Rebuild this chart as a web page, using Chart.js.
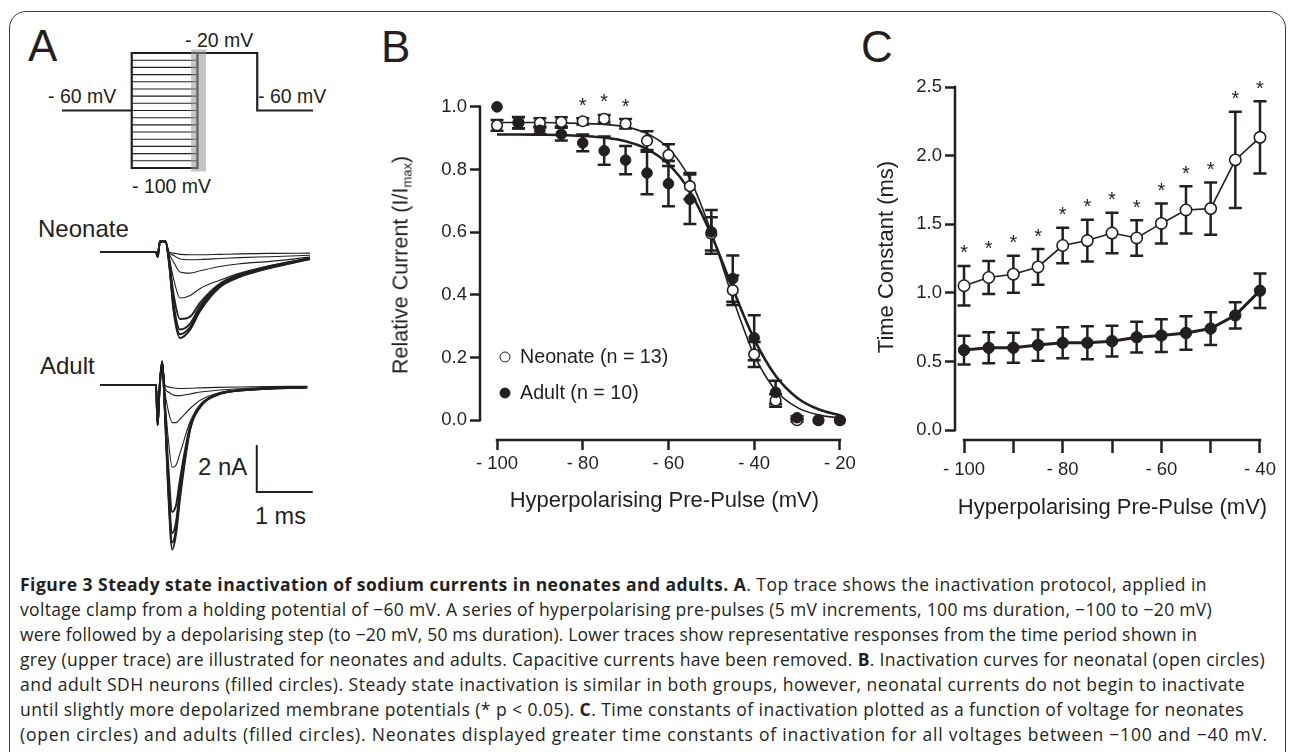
<!DOCTYPE html>
<html>
<head>
<meta charset="utf-8">
<script src="https://cdn.jsdelivr.net/npm/chart.js@4.4.1/dist/chart.umd.min.js"></script>
<style>
  body { margin: 0; width: 1295px; height: 752px; overflow: hidden; background: #fff; position: relative;
         font-family: "Liberation Sans", Arial, sans-serif; color: #231f20; }
  .frame { position: absolute; left: 9px; top: 11px; width: 1277px; height: 820px; box-sizing: border-box;
           border: 1.5px solid #3c3c3c; border-radius: 17px; }
  canvas { position: absolute; }
  .lbl { position: absolute; white-space: nowrap; line-height: 1; transform: translateY(-50%); }
  .letter { position: absolute; font-size: 44px; line-height: 1; }
  .dot { display: inline-block; width: 11px; height: 11px; border-radius: 50%; box-sizing: border-box;
         border: 1.7px solid #231f20; position: absolute; transform: translate(-50%, -50%); }
  .caption { position: absolute; left: 20px; top: 572px; font-family: "Open Sans", sans-serif; font-size: 17.5px;
             letter-spacing: 0.4px; line-height: 25px; color: #231f20; white-space: nowrap; }
  .caption div { display: table; }
  .rot { position: absolute; white-space: nowrap; line-height: 1; font-size: 21.5px;
         transform: translate(-50%, -50%) rotate(-90deg); }
  sub { font-size: 13px; vertical-align: -4px; }
</style>
</head>
<body>
<div class="frame"></div>

<div class="letter" style="left:28px;top:24px">A</div>
<div class="letter" style="left:381px;top:25px">B</div>
<div class="letter" style="left:861px;top:25px">C</div>

<!-- panel A labels -->
<div class="lbl" style="left:185px;top:41px;font-size:19.5px">- 20 mV</div>
<div class="lbl" style="left:48px;top:97px;font-size:19.5px">- 60 mV</div>
<div class="lbl" style="left:258px;top:97px;font-size:19.5px">- 60 mV</div>
<div class="lbl" style="left:132px;top:187px;font-size:19.5px">- 100 mV</div>
<div class="lbl" style="left:38px;top:229px;font-size:24px">Neonate</div>
<div class="lbl" style="left:40px;top:366px;font-size:24px">Adult</div>
<div class="lbl" style="left:198px;top:467px;font-size:24px">2 nA</div>
<div class="lbl" style="left:255px;top:517px;font-size:23.5px">1 ms</div>

<canvas id="protocolChart" width="261" height="133" style="left:57px;top:44px"></canvas>
<canvas id="neonateTraces" width="225" height="120" style="left:95px;top:230px"></canvas>
<canvas id="adultTraces" width="225" height="215" style="left:95px;top:350px"></canvas>

<!-- panel B -->
<canvas id="inactChart" width="480" height="470" style="left:380px;top:70px"></canvas>
<div class="rot" style="left:402px;top:265px">Relative Current (I/I<sub>max</sub>)</div>
<span class="dot" style="left:505px;top:357px;background:#fff"></span>
<div class="lbl" style="left:520px;top:357px;font-size:19.7px">Neonate (n = 13)</div>
<span class="dot" style="left:505px;top:393px;background:#231f20"></span>
<div class="lbl" style="left:520px;top:393px;font-size:19.7px">Adult (n = 10)</div>

<!-- panel C -->
<canvas id="tauChart" width="425" height="480" style="left:860px;top:60px"></canvas>

<div class="caption" id="caption">
<div data-w="1187"><b>Figure 3 Steady state inactivation of sodium currents in neonates and adults. A</b>. Top trace shows the inactivation protocol, applied in</div>
<div data-w="1192">voltage clamp from a holding potential of −60 mV. A series of hyperpolarising pre-pulses (5 mV increments, 100 ms duration, −100 to −20 mV)</div>
<div data-w="1177">were followed by a depolarising step (to −20 mV, 50 ms duration). Lower traces show representative responses from the time period shown in</div>
<div data-w="1245">grey (upper trace) are illustrated for neonates and adults. Capacitive currents have been removed. <b>B</b>. Inactivation curves for neonatal (open circles)</div>
<div data-w="1225">and adult SDH neurons (filled circles). Steady state inactivation is similar in both groups, however, neonatal currents do not begin to inactivate</div>
<div data-w="1224">until slightly more depolarized membrane potentials (* p &lt; 0.05). <b>C</b>. Time constants of inactivation plotted as a function of voltage for neonates</div>
<div data-w="1248">(open circles) and adults (filled circles). Neonates displayed greater time constants of inactivation for all voltages between −100 and −40 mV.</div>
</div>

<script>
const INK = '#231f20';
const FONT = '"Liberation Sans", Arial, sans-serif';
Chart.defaults.font.family = FONT;
Chart.defaults.color = INK;
Chart.defaults.animation = false;
Chart.defaults.plugins.legend.display = false;
Chart.defaults.plugins.tooltip.enabled = false;

// ---- panel A: protocol (time in arbitrary ms-like units, voltage in mV) ----
const protoTimes = [0, 35, 68, 98, 126];      // hold start, pre-pulse start, step start, step end, end
const holdMv = -60;
const stepMv = -20;
const prePulseMv = [-100, -95, -90, -85, -80, -75, -70, -65, -60, -55, -50, -45, -40, -35, -30, -25, -20];
const greyWindow = [64.8, 72.3];

// ---- panel A: current traces (time ms, current nA) ----
const neoTime = [0, 1.0, 1.03, 1.07, 1.17, 1.23, 1.32, 1.43, 1.61, 1.79, 2.14, 2.5, 3.04, 3.75];
const neoTraces = [
  [0, 0, -0.2, 0.45, 0.45, -0.4, -2.6, -3.66, -3.3, -2.5, -1.5, -1.06, -0.68, -0.3],
  [0, 0, -0.2, 0.45, 0.45, -0.35, -2.5, -3.5, -3.2, -2.4, -1.45, -1.02, -0.65, -0.3],
  [0, 0, -0.2, 0.45, 0.45, -0.3, -2.3, -3.3, -3.05, -2.3, -1.4, -0.98, -0.62, -0.28],
  [0, 0, -0.2, 0.45, 0.45, -0.25, -1.9, -2.85, -2.75, -2.15, -1.35, -0.95, -0.6, -0.27],
  [0, 0, -0.2, 0.45, 0.45, -0.15, -1.2, -1.96, -1.85, -1.55, -1.2, -0.9, -0.58, -0.26],
  [0, 0, -0.2, 0.45, 0.45, -0.05, -0.45, -0.85, -0.9, -0.8, -0.62, -0.5, -0.4, -0.22],
  [0, 0, -0.2, 0.45, 0.45, 0, -0.15, -0.3, -0.33, -0.32, -0.28, -0.24, -0.2, -0.14],
  [0, 0, -0.2, 0.45, 0.45, 0, -0.05, -0.1, -0.12, -0.12, -0.1, -0.08, -0.06, -0.05]
];
const adultTime = [0, 1.0, 1.03, 1.06, 1.11, 1.16, 1.22, 1.29, 1.36, 1.43, 1.61, 1.79, 2.09, 2.68, 3.7];
const adultTraces = [
  [0, 0, -1.7, -0.3, 1.0, -1.2, -4.6, -7.0, -6.3, -4.8, -1.9, -0.94, -0.43, -0.2, -0.1],
  [0, 0, -1.7, -0.3, 1.0, -1.1, -4.4, -6.7, -6.1, -4.6, -1.85, -0.92, -0.42, -0.2, -0.1],
  [0, 0, -1.7, -0.3, 1.0, -1.0, -4.1, -6.3, -5.8, -4.4, -1.8, -0.9, -0.41, -0.2, -0.1],
  [0, 0, -1.7, -0.3, 1.0, -0.9, -3.5, -5.4, -5.1, -4.0, -1.75, -0.88, -0.4, -0.19, -0.1],
  [0, 0, -1.7, -0.3, 1.0, -0.6, -2.3, -3.5, -3.4, -2.9, -1.55, -0.83, -0.39, -0.18, -0.09],
  [0, 0, -1.7, -0.3, 1.0, -0.3, -1.1, -1.6, -1.6, -1.45, -1.0, -0.65, -0.35, -0.17, -0.08],
  [0, 0, -1.7, -0.3, 1.0, -0.1, -0.3, -0.4, -0.45, -0.45, -0.38, -0.3, -0.22, -0.14, -0.07],
  [0, 0, -1.7, -0.3, 1.0, 0, -0.08, -0.12, -0.14, -0.15, -0.14, -0.12, -0.1, -0.08, -0.05]
];
const scaleBarT = [2.8, 2.8, 3.8];     // 1 ms
const scaleBarI = [-2.55, -4.55, -4.55]; // 2 nA

// ---- panel B: steady state inactivation ----
const voltsB = [-100, -95, -90, -85, -80, -75, -70, -65, -60, -55, -50, -45, -40, -35, -30, -25, -20];
const neoRelB = [0.941, 0.95, 0.949, 0.952, 0.954, 0.962, 0.946, 0.892, 0.846, 0.747, 0.595, 0.415, 0.21, 0.063, 0.0, 0.0, 0.0];
const neoErrB = [0.017, 0.018, 0.015, 0.015, 0.01, 0.012, 0.015, 0.03, 0.035, 0.042, 0.053, 0.047, 0.04, 0.02, 0.005, 0, 0];
const adultRelB = [1.0, 0.949, 0.925, 0.913, 0.885, 0.86, 0.83, 0.789, 0.755, 0.705, 0.601, 0.452, 0.263, 0.089, 0.008, 0.0, 0.0];
const adultErrB = [0, 0.018, 0.012, 0.02, 0.027, 0.045, 0.045, 0.068, 0.072, 0.079, 0.07, 0.074, 0.072, 0.037, 0.005, 0, 0];
const neoFitB = [0.95, 0.95, 0.95, 0.949, 0.947, 0.944, 0.936, 0.915, 0.868, 0.77, 0.60, 0.39, 0.208, 0.096, 0.041, 0.017, 0.007];
const adultFitB = [0.912, 0.912, 0.911, 0.91, 0.907, 0.902, 0.89, 0.865, 0.817, 0.73, 0.592, 0.42, 0.259, 0.142, 0.072, 0.035, 0.016];
const sigB = [-80, -75, -70];
const xTicksB = [-100, -80, -60, -40, -20];
const yTicksB = [0, 0.2, 0.4, 0.6, 0.8, 1.0];

// ---- panel C: time constants ----
const voltsC = [-100, -95, -90, -85, -80, -75, -70, -65, -60, -55, -50, -45, -40];
const neoTauC = [1.052, 1.112, 1.136, 1.189, 1.345, 1.381, 1.436, 1.40, 1.506, 1.604, 1.614, 1.969, 2.133];
const neoErrC = [0.144, 0.12, 0.135, 0.13, 0.13, 0.152, 0.148, 0.13, 0.146, 0.172, 0.19, 0.35, 0.264];
const adultTauC = [0.583, 0.60, 0.60, 0.62, 0.636, 0.636, 0.648, 0.677, 0.689, 0.708, 0.74, 0.836, 1.016];
const adultErrC = [0.105, 0.113, 0.11, 0.114, 0.113, 0.12, 0.112, 0.112, 0.119, 0.122, 0.119, 0.095, 0.126];
const sigC = [-100, -95, -90, -85, -80, -75, -70, -65, -60, -55, -50, -45, -40];
const xTicksC = [-100, -90, -80, -70, -60, -50, -40];
const xLabelsC = [-100, -80, -60, -40];
const yTicksC = [0, 0.5, 1.0, 1.5, 2.0, 2.5];

const pts = (xs, ys) => xs.map((x, i) => ({ x: x, y: ys[i] }));

// stretch each caption line a little so the ragged edge matches the printed figure
document.querySelectorAll('#caption div').forEach(d => {
  const want = +d.dataset.w;
  const have = d.getBoundingClientRect().width;
  const n = d.textContent.length;
  d.style.letterSpacing = (0.4 + (want - have) / n).toFixed(3) + 'px';
});

// plugins
const errorBars = {
  id: 'errorBars',
  beforeDatasetsDraw(chart) {
    const { ctx, scales: { x, y } } = chart;
    ctx.save();
    ctx.strokeStyle = INK;
    ctx.lineWidth = 2.5;
    chart.data.datasets.forEach(ds => {
      if (!ds.errors) return;
      ds.data.forEach((p, i) => {
        const e = ds.errors[i];
        if (!e) return;
        const px = x.getPixelForValue(p.x);
        const top = y.getPixelForValue(p.y + e);
        const bot = y.getPixelForValue(p.y - e);
        ctx.beginPath();
        ctx.moveTo(px, top); ctx.lineTo(px, bot);
        ctx.moveTo(px - 6.5, top); ctx.lineTo(px + 6.5, top);
        ctx.moveTo(px - 6.5, bot); ctx.lineTo(px + 6.5, bot);
        ctx.stroke();
      });
    });
    ctx.restore();
  }
};

const stars = {
  id: 'stars',
  afterDatasetsDraw(chart, args, opts) {
    if (!opts.at) return;
    const { ctx, scales: { x, y } } = chart;
    ctx.save();
    ctx.fillStyle = INK;
    ctx.font = '20px ' + FONT;
    ctx.textAlign = 'center';
    ctx.textBaseline = 'alphabetic';
    opts.at.forEach(v => {
      let top = -Infinity;
      chart.data.datasets.forEach(ds => {
        if (!ds.errors) return;
        const i = ds.data.findIndex(p => p.x === v);
        if (i >= 0) top = Math.max(top, ds.data[i].y + ds.errors[i]);
      });
      const py = y.getPixelForValue(top) - 18;
      ctx.fillText('*', x.getPixelForValue(v), py + 11.5);
    });
    ctx.restore();
  }
};

const axisLines = {
  id: 'axisLines',
  afterDraw(chart, args, opts) {
    if (!opts.x) return;
    const { ctx, chartArea, scales: { x, y } } = chart;
    ctx.save();
    ctx.strokeStyle = INK;
    ctx.lineWidth = 2.5;
    ctx.lineCap = 'square';
    ctx.beginPath();
    ctx.moveTo(x.getPixelForValue(opts.x[0]), chartArea.bottom);
    ctx.lineTo(x.getPixelForValue(opts.x[1]), chartArea.bottom);
    ctx.moveTo(chartArea.left, y.getPixelForValue(opts.y[0]));
    ctx.lineTo(chartArea.left, y.getPixelForValue(opts.y[1]));
    ctx.stroke();
    ctx.restore();
  }
};

// ---- protocol chart ----
const outline = [
  { x: protoTimes[4], y: holdMv }, { x: protoTimes[3], y: holdMv }, { x: protoTimes[3], y: stepMv },
  { x: protoTimes[1], y: stepMv }, { x: protoTimes[1], y: prePulseMv[0] }, { x: protoTimes[2], y: prePulseMv[0] },
  { x: protoTimes[2], y: stepMv }, { x: protoTimes[2], y: null },
  { x: protoTimes[0], y: holdMv }, { x: protoTimes[1], y: holdMv }
];
const steps = prePulseMv.flatMap(v => [{ x: protoTimes[1], y: v }, { x: protoTimes[2], y: v }, { x: protoTimes[2], y: null }]);

new Chart(document.getElementById('protocolChart'), {
  type: 'line',
  data: {
    datasets: [
      { data: [{ x: greyWindow[0], y: -17.5 }, { x: greyWindow[1], y: -17.5 }], fill: { value: -102.5 },
        backgroundColor: 'rgba(150,150,150,0.55)', borderWidth: 0, pointRadius: 0 },
      { data: outline, borderColor: INK, borderWidth: 2.2, pointRadius: 0, fill: false },
      { data: steps, borderColor: INK, borderWidth: 1.1, pointRadius: 0, fill: false }
    ]
  },
  options: {
    responsive: false,
    layout: { padding: 5 },
    scales: {
      x: { type: 'linear', min: 0, max: 126, display: false },
      y: { min: -102.8, max: -17.2, display: false }
    }
  }
});

// ---- trace charts ----
function traceSets(times, traces) {
  return traces.map((v, k) => ({
    data: pts(times, v), borderColor: INK, borderWidth: k < 4 ? 2 : 1.1,
    pointRadius: 0, cubicInterpolationMode: 'monotone', fill: false
  }));
}

new Chart(document.getElementById('neonateTraces'), {
  type: 'line',
  data: { datasets: traceSets(neoTime, neoTraces) },
  options: {
    responsive: false,
    layout: { padding: 5 },
    scales: {
      x: { type: 'linear', min: 0, max: 3.84, display: false },
      y: { min: -3.957, max: 0.723, display: false }
    }
  }
});

new Chart(document.getElementById('adultTraces'), {
  type: 'line',
  data: {
    datasets: [
      { data: pts(scaleBarT, scaleBarI), borderColor: INK, borderWidth: 2, pointRadius: 0, fill: false }
    ].concat(traceSets(adultTime, adultTraces))
  },
  options: {
    responsive: false,
    layout: { padding: 5 },
    scales: {
      x: { type: 'linear', min: 0, max: 3.84, display: false },
      y: { min: -7.447, max: 1.277, display: false }
    }
  }
});

// ---- panel B chart ----
new Chart(document.getElementById('inactChart'), {
  type: 'line',
  data: {
    datasets: [
      { label: 'Adult (n = 10)', data: pts(voltsB, adultRelB), errors: adultErrB, showLine: false,
        pointRadius: 5.3, pointBackgroundColor: INK, pointBorderColor: INK, pointBorderWidth: 1, order: 0 },
      { label: 'Neonate (n = 13)', data: pts(voltsB, neoRelB), errors: neoErrB, showLine: false,
        pointRadius: 5.3, pointBackgroundColor: '#fff', pointBorderColor: INK, pointBorderWidth: 1.6, order: 1 },
      { label: 'Neonate fit', data: pts(voltsB, neoFitB), borderColor: INK, borderWidth: 1.6, pointRadius: 0,
        cubicInterpolationMode: 'monotone', order: 2 },
      { label: 'Adult fit', data: pts(voltsB, adultFitB), borderColor: INK, borderWidth: 2.6, pointRadius: 0,
        cubicInterpolationMode: 'monotone', order: 3 }
    ]
  },
  options: {
    responsive: false,
    clip: false,
    layout: { padding: { left: 0, top: 10, right: 11.4, bottom: 0 } },
    plugins: {
      stars: { at: sigB },
      axisLines: { x: [-100, -20], y: [0, 1] }
    },
    scales: {
      x: {
        type: 'linear', min: -103.97, max: -17.97, bounds: 'data',
        afterBuildTicks: s => { s.ticks = xTicksB.map(v => ({ value: v })); },
        afterFit: s => { s.height = 100; },
        border: { display: false },
        grid: { drawOnChartArea: false, drawTicks: true, tickLength: 10, tickWidth: 2.5, tickColor: INK },
        ticks: { color: INK, font: { size: 18.5 }, padding: 3, autoSkip: false, maxRotation: 0,
                 callback: v => '- ' + Math.abs(v) },
        title: { display: true, text: 'Hyperpolarising Pre-Pulse (mV)', color: INK, font: { size: 22 },
                 padding: { top: 0, bottom: 25.8 } }
      },
      y: {
        min: -0.0631, max: 1.0726, bounds: 'data',
        afterBuildTicks: s => { s.ticks = yTicksB.map(v => ({ value: v })); },
        afterFit: s => { s.width = 100; },
        border: { display: false },
        grid: { drawOnChartArea: false, drawTicks: true, tickLength: 10, tickWidth: 2.5, tickColor: INK },
        ticks: { color: INK, font: { size: 18.5 }, padding: 3, callback: v => v.toFixed(1) }
      }
    }
  },
  plugins: [errorBars, stars, axisLines]
});

// ---- panel C chart ----
new Chart(document.getElementById('tauChart'), {
  type: 'line',
  data: {
    datasets: [
      { label: 'Adult', data: pts(voltsC, adultTauC), errors: adultErrC, borderColor: INK, borderWidth: 3,
        pointRadius: 5.7, pointBackgroundColor: INK, pointBorderColor: INK, pointBorderWidth: 1, order: 0 },
      { label: 'Neonate', data: pts(voltsC, neoTauC), errors: neoErrC, borderColor: INK, borderWidth: 1.6,
        pointRadius: 5.7, pointBackgroundColor: '#fff', pointBorderColor: INK, pointBorderWidth: 1.6, order: 1 }
    ]
  },
  options: {
    responsive: false,
    clip: false,
    layout: { padding: { left: 0, top: 10, right: 15, bottom: 0 } },
    plugins: {
      stars: { at: sigC },
      axisLines: { x: [-100, -40], y: [0, 2.5] }
    },
    scales: {
      x: {
        type: 'linear', min: -101.83, max: -37.97, bounds: 'data',
        afterBuildTicks: s => { s.ticks = xTicksC.map(v => ({ value: v })); },
        afterFit: s => { s.height = 100; },
        border: { display: false },
        grid: { drawOnChartArea: false, drawTicks: true, tickLength: 13, tickWidth: 2.5, tickColor: INK },
        ticks: { color: INK, font: { size: 18.5 }, padding: 6, autoSkip: false, maxRotation: 0,
                 callback: v => xLabelsC.includes(v) ? '- ' + Math.abs(v) : '' },
        title: { display: true, text: 'Hyperpolarising Pre-Pulse (mV)', color: INK, font: { size: 22 },
                 padding: { top: 0, bottom: 18.8 } }
      },
      y: {
        min: -0.072, max: 2.594, bounds: 'data',
        afterBuildTicks: s => { s.ticks = yTicksC.map(v => ({ value: v })); },
        afterFit: s => { s.width = 95; },
        border: { display: false },
        grid: { drawOnChartArea: false, drawTicks: true, tickLength: 10, tickWidth: 2.5, tickColor: INK },
        ticks: { color: INK, font: { size: 18.5 }, padding: 3, callback: v => v.toFixed(1) },
        title: { display: true, text: 'Time Constant (ms)', color: INK, font: { size: 22 },
                 padding: { top: 13.8, bottom: 0 } }
      }
    }
  },
  plugins: [errorBars, stars, axisLines]
});
</script>
</body>
</html>
